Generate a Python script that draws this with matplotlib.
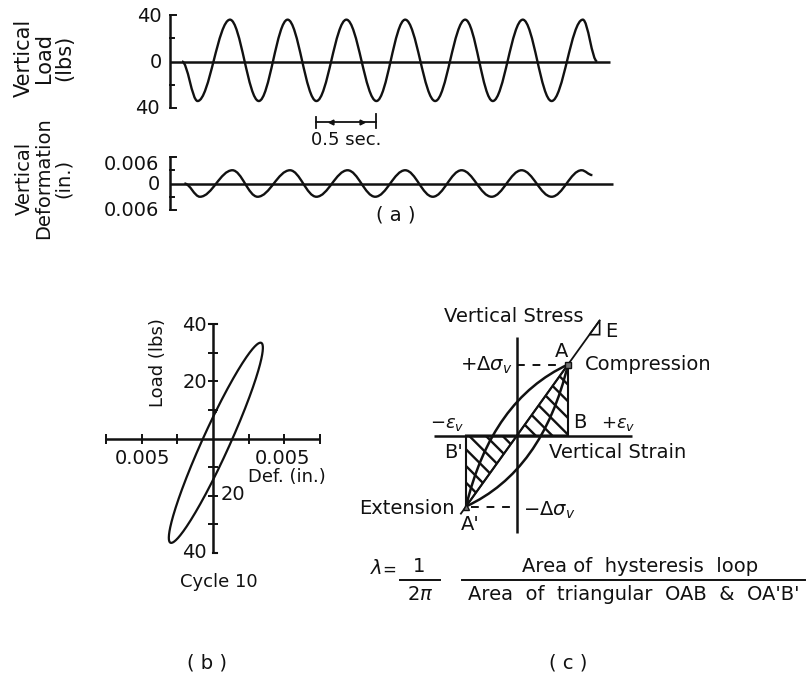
import numpy as np
import matplotlib
matplotlib.use("Agg")
import matplotlib.pyplot as plt
from matplotlib.path import Path
from matplotlib.patches import PathPatch, Polygon
from matplotlib.lines import Line2D

plt.rcParams["font.family"] = ["DejaVu Sans"]
plt.rcParams["mathtext.fontset"] = "dejavusans"
plt.rcParams["hatch.linewidth"] = 1.7

W, H = 810, 680
fig = plt.figure(figsize=(W / 100, H / 100), dpi=100)

# ---------------- (a) load and deformation records ----------------
load_ticks = [-40, -20, 0, 20, 40]
load_t = [0.10, 0.23, 0.50, 0.74, 0.98, 1.22, 1.47, 1.72, 1.96, 2.21,
          2.46, 2.69, 2.94, 3.18, 3.44, 3.56]
load_v = [0, -34, 36, -34, 36, -34, 36, -34, 36, -34, 36, -34, 36, -34, 36, 0]

deform_ticks = [-0.006, -0.003, 0, 0.003, 0.006]
deform_t = [0.12, 0.25, 0.52, 0.73, 1.00, 1.22, 1.48, 1.71, 1.96, 2.19,
            2.43, 2.68, 2.93, 3.18, 3.43, 3.52]
deform_v = [0, -0.003, 0.003, -0.003, 0.003, -0.003, 0.003, -0.003, 0.003,
            -0.003, 0.003, -0.003, 0.003, -0.003, 0.003, 0.0019]

record_end_s = 3.67
time_bar_start_s = 1.22
time_bar_len_s = 0.5

# ---------------- (b) cycle 10 load-deformation loop ----------------
cycle10_load_amp = 35.0      # lbs
cycle10_load_mean = -1.5     # lbs
cycle10_def_amp = 0.0033     # in.
cycle10_def_mean = 0.0002    # in.
cycle10_phase = 0.32         # rad, load leads deformation
loop_load_ticks = [-40, -30, -20, -10, 10, 20, 30, 40]
loop_def_ticks = [-0.0075, -0.005, -0.0025, 0.0025, 0.005, 0.0075]

# ---------------- (c) definition sketch (normalised units) ----------------
point_A = (1.0, 1.0)
point_A1 = (-1.0, -1.0)
point_B = (1.0, 0.0)
point_B1 = (-1.0, 0.0)
loop_bulge = 0.5
modulus_span = (-1.1, 1.62)

INK = "#111111"


def px_axes(ox, oy, sx, sy, xlim, ylim):
    """Axes whose data origin sits at pixel (ox, oy) with sx, sy px per unit."""
    left = ox + xlim[0] * sx
    right = ox + xlim[1] * sx
    top = oy - ylim[1] * sy
    bottom = oy - ylim[0] * sy
    ax = fig.add_axes([left / W, 1 - bottom / H, (right - left) / W, (bottom - top) / H])
    ax.set_xlim(xlim)
    ax.set_ylim(ylim)
    ax.axis("off")
    return ax


def txt(x, y, s, size=13, ha="center", va="center", **kw):
    fig.text(x / W, 1 - y / H, s, fontsize=size, ha=ha, va=va, color=INK, **kw)


def fig_hline(x0, x1, y, lw=1.4):
    fig.add_artist(Line2D([x0 / W, x1 / W], [1 - y / H, 1 - y / H], lw=lw, color=INK))


def wave_path(ts, vs, a=0.363):
    verts = [(ts[0], vs[0])]
    codes = [Path.MOVETO]
    for t0, v0, t1, v1 in zip(ts[:-1], vs[:-1], ts[1:], vs[1:]):
        dt = t1 - t0
        verts += [(t0 + a * dt, v0), (t1 - a * dt, v1), (t1, v1)]
        codes += [Path.CURVE4] * 3
    return Path(verts, codes)


axis_kw = dict(color=INK, lw=1.8, solid_capstyle="butt", clip_on=False)

# ---- (a) top: vertical load ----
ax_l = px_axes(170, 61.5, 120, 46.5 / 40, (0, 3.75), (-45, 45))
ax_l.plot([0, 0], [load_ticks[0], load_ticks[-1]], **axis_kw)
ax_l.plot([0, record_end_s], [0, 0], **axis_kw)
for v in load_ticks:
    if v != 0:
        ln = 0.05 if abs(v) == 40 else 0.03
        ax_l.plot([0, ln], [v, v], color=INK, lw=1.4, clip_on=False)
ax_l.add_patch(PathPatch(wave_path(load_t, load_v), fill=False, lw=1.7,
                         edgecolor=INK, clip_on=False))
# 0.5 sec. scale bar
bar_y = -52
bx0, bx1 = time_bar_start_s, time_bar_start_s + time_bar_len_s
ax_l.plot([bx0, bx1], [bar_y, bar_y], color=INK, lw=1.3, clip_on=False)
ax_l.plot([bx0, bx0], [bar_y - 5, bar_y + 4], color=INK, lw=1.3, clip_on=False)
ax_l.plot([bx1, bx1], [bar_y - 5, bar_y + 7], color=INK, lw=1.3, clip_on=False)
ax_l.plot([bx0 + 0.12], [bar_y], marker="<", ms=3.5, color=INK, clip_on=False)
ax_l.plot([bx1 - 0.12], [bar_y], marker=">", ms=3.5, color=INK, clip_on=False)

# ---- (a) bottom: vertical deformation ----
ax_d = px_axes(170, 183.5, 120, 26.5 / 0.006, (0, 3.75), (-0.0065, 0.0065))
ax_d.plot([0, 0], [deform_ticks[0], deform_ticks[-1]], **axis_kw)
ax_d.plot([0, record_end_s + 0.02], [0, 0], **axis_kw)
for v in deform_ticks:
    if v != 0:
        ln = 0.05 if abs(v) > 0.005 else 0.03
        ax_d.plot([0, ln], [v, v], color=INK, lw=1.4, clip_on=False)
ax_d.add_patch(PathPatch(wave_path(deform_t, deform_v), fill=False, lw=1.7,
                         edgecolor=INK, clip_on=False))

txt(44, 58, "Vertical\nLoad\n(lbs)", size=15, rotation=90, linespacing=1.0)
txt(44, 178, "Vertical\nDeformation\n(in.)", size=14, rotation=90, linespacing=1.05)
txt(149, 17, "40", size=14)
txt(156, 62, "0", size=14)
txt(147, 109, "40", size=14)
txt(131, 164, "0.006", size=14)
txt(154, 185, "0", size=14)
txt(131, 210, "0.006", size=14)
txt(346, 140, "0.5 sec.", size=13)
txt(396, 215, "( a )", size=14)

# ---- (b) load-deformation loop ----
ax_b = px_axes(213, 438.5, 14250, 2.86, (-0.0078, 0.0078), (-42, 42))
ax_b.plot([0, 0], [-40, 40], **axis_kw)
ax_b.plot([loop_def_ticks[0], loop_def_ticks[-1]], [0, 0], **axis_kw)
ax_b.plot([-0.0003, 0.0003], [40, 40], color=INK, lw=1.5, clip_on=False)
ax_b.plot([0, 0.0003], [-40, -40], color=INK, lw=1.5, clip_on=False)
ax_b.plot(np.zeros(len(loop_load_ticks) - 2), loop_load_ticks[1:-1], ls="none",
          marker="_", ms=7, mew=1.4, color=INK, clip_on=False)
ax_b.plot(loop_def_ticks, np.zeros(len(loop_def_ticks)), ls="none",
          marker="|", ms=7, mew=1.4, color=INK, clip_on=False)
theta = np.linspace(0, 2 * np.pi, 400)
loop_def = cycle10_def_mean + cycle10_def_amp * np.sin(theta)
loop_load = cycle10_load_mean + cycle10_load_amp * np.sin(theta + cycle10_phase)
ax_b.plot(loop_def, loop_load, color=INK, lw=1.6, clip_on=False)

txt(158, 363, "Load (lbs)", size=13, rotation=90)
txt(207, 325, "40", size=14, ha="right")
txt(207, 382, "20", size=14, ha="right")
txt(142, 458, "0.005", size=14)
txt(283, 458, "0.005", size=14)
txt(287, 477, "Def. (in.)", size=13)
txt(221, 495, "20", size=14, ha="left")
txt(207, 553, "40", size=14, ha="right")
txt(219, 582, "Cycle 10", size=13)
txt(207, 663, "( b )", size=14)

# ---- (c) definition sketch ----
ax_c = px_axes(517, 435.5, 51, 71, (-1.62, 2.26), (-1.38, 1.39))
ax_c.plot([0, 0], [-1.38, 1.39], **axis_kw)
ax_c.plot([-1.62, 2.26], [0, 0], **axis_kw)
ax_c.plot(modulus_span, modulus_span, color=INK, lw=1.3, clip_on=False)
for tri in ([(0, 0), point_A, point_B], [(0, 0), point_A1, point_B1]):
    ax_c.add_patch(Polygon(tri, closed=True, fill=False, hatch="\\\\",
                           edgecolor=INK, lw=1.5, clip_on=False))
for k in (loop_bulge, -loop_bulge):
    branch = Path([point_A1, (-k, k), point_A], [Path.MOVETO, Path.CURVE3, Path.CURVE3])
    ax_c.add_patch(PathPatch(branch, fill=False, lw=1.8, edgecolor=INK, clip_on=False))
ax_c.plot([0, point_A[0] - 0.1], [point_A[1]] * 2, color=INK, lw=1.4,
          dashes=(4, 4), clip_on=False)
ax_c.plot([point_A1[0] + 0.1, 0], [point_A1[1]] * 2, color=INK, lw=1.4,
          dashes=(4, 4), clip_on=False)
ax_c.add_patch(Polygon([(1.42, 1.42), (1.62, 1.62), (1.62, 1.42)], closed=True,
                       fill=False, edgecolor=INK, lw=1.2, clip_on=False))
ax_c.plot(*point_A, marker="s", ms=5, mfc="0.45", mec=INK, mew=1, clip_on=False)
ax_c.plot(*point_A1, marker="^", ms=5, mfc="0.45", mec=INK, mew=1, clip_on=False)

txt(514, 316, "Vertical Stress", size=14)
txt(611, 331, "E", size=14)
txt(562, 351, "A", size=14)
txt(585, 365, "Compression", size=14, ha="left")
txt(512, 365, r"+$\Delta\sigma_v$", size=14, ha="right")
txt(447, 424, r"$-\epsilon_v$", size=13)
txt(580, 423, "B", size=14)
txt(618, 424, r"$+\epsilon_v$", size=13)
txt(453, 452, "B'", size=14)
txt(618, 453, "Vertical Strain", size=14)
txt(455, 509, "Extension", size=14, ha="right")
txt(470, 524, "A'", size=14)
txt(523, 510, r"$-\Delta\sigma_v$", size=14, ha="left")

# damping ratio definition
txt(376, 569, r"$\lambda$", size=14)
txt(389, 570, "=", size=12)
txt(419, 566, "1", size=14)
fig_hline(400, 440, 580)
txt(420, 595, r"2$\pi$", size=14)
fig_hline(462, 805, 580)
txt(640, 567, "Area of  hysteresis  loop", size=14)
txt(634, 595, "Area  of  triangular  OAB  &  OA'B'", size=14)
txt(568, 663, "( c )", size=14)

fig.savefig("out.png", dpi=100)
